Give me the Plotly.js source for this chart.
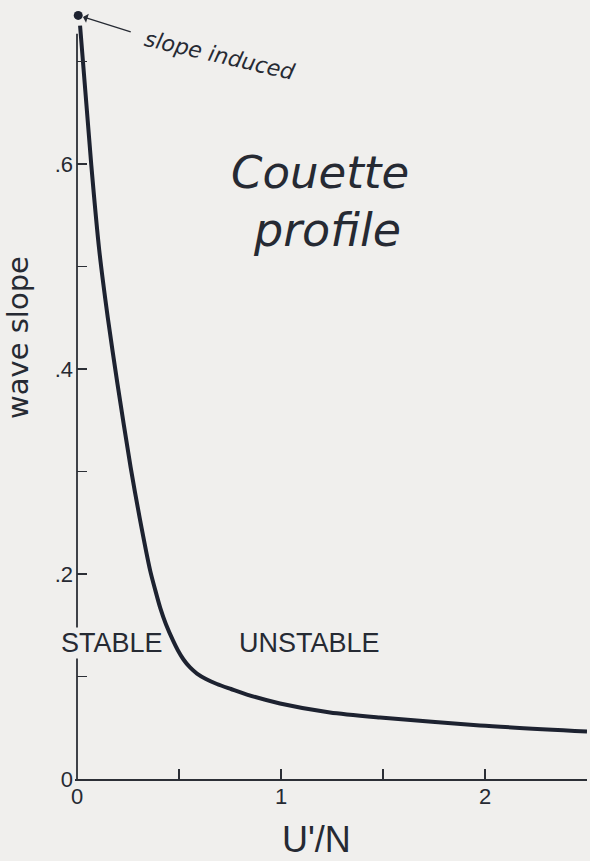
<!DOCTYPE html>
<html>
<head>
<meta charset="utf-8">
<script src="https://cdn.plot.ly/plotly-3.0.1.min.js"></script>
<style>
  html, body { margin: 0; padding: 0; background: #f0efed; }
  #chart { width: 590px; height: 861px; }
</style>
</head>
<body>
<div id="chart"></div>
<script>
// U'/N values along the Couette-profile stability boundary
const uOverN = [0.015, 0.070, 0.109, 0.151, 0.198, 0.263, 0.307, 0.359, 0.384, 0.408,
                0.436, 0.471, 0.495, 0.522, 0.554, 0.588, 0.632, 0.686, 0.755, 0.833,
                0.995, 1.240, 1.485, 1.975, 2.500];
// wave slope on the boundary
const waveSlope = [0.735, 0.599, 0.516, 0.450, 0.386, 0.304, 0.255, 0.203, 0.184, 0.167,
                   0.151, 0.135, 0.1254, 0.1166, 0.1088, 0.1029, 0.0976, 0.0927, 0.0878, 0.0824,
                   0.0737, 0.0649, 0.0600, 0.0522, 0.0463];
// slope-induced point
const inducedX = [0.006];
const inducedY = [0.745];

const xTickVals = [0, 0.5, 1, 1.5, 2, 2.5];
const xTickText = ["0", "", "1", "", "2", ""];
const yTickVals = [0, 0.1, 0.2, 0.3, 0.4, 0.5, 0.6, 0.7];
const yTickText = ["0", "", ".2", "", ".4", "", ".6", ""];
const yRange = [0, 0.76];
const yAxisTop = 0.727;

const ink = "#1d2230";
const textInk = "#262a33";
const axisInk = "#2c2f36";
const bg = "#f0efed";

const traces = [
  {
    x: uOverN, y: waveSlope, type: "scatter", mode: "lines",
    line: { color: ink, width: 4, shape: "spline", smoothing: 0.7 },
    cliponaxis: false, hoverinfo: "skip"
  },
  {
    x: inducedX, y: inducedY, type: "scatter", mode: "markers",
    marker: { color: ink, size: 9 },
    cliponaxis: false, hoverinfo: "skip"
  }
];

const layout = {
  width: 590, height: 861,
  margin: { l: 77, r: 3, t: 0, b: 82 },
  paper_bgcolor: bg, plot_bgcolor: bg,
  showlegend: false,
  xaxis: {
    range: [0, 2.5], showgrid: false, zeroline: false,
    showline: true, linecolor: axisInk, linewidth: 1.8,
    ticks: "inside", ticklen: 10, tickwidth: 1.5, tickcolor: axisInk,
    tickmode: "array", tickvals: xTickVals, ticktext: xTickText,
    ticklabelstandoff: -3,
    tickfont: { family: "Liberation Sans, Arial, sans-serif", size: 22, color: textInk }
  },
  yaxis: {
    range: yRange, showgrid: false, zeroline: false,
    showline: true, linecolor: "rgba(0,0,0,0)", linewidth: 1.6,
    ticks: "inside", ticklen: 10, tickwidth: 1.5, tickcolor: axisInk,
    tickmode: "array", tickvals: yTickVals, ticktext: yTickText,
    ticklabelstandoff: -2,
    tickfont: { family: "Liberation Sans, Arial, sans-serif", size: 22, color: textInk }
  },
  shapes: [
    { type: "line", xref: "paper", yref: "paper", x0: 0, x1: 0,
      y0: 0, y1: yAxisTop / yRange[1],
      line: { color: axisInk, width: 1.8 } }
  ],
  annotations: [
    { xref: "paper", yref: "paper", x: 0.4765, y: 0.742, text: "<i>Couette</i>",
      showarrow: false, xanchor: "center", yanchor: "bottom",
      font: { family: "DejaVu Sans, sans-serif", size: 45, color: textInk } },
    { xref: "paper", yref: "paper", x: 0.491, y: 0.742, text: "<i>profile</i>",
      showarrow: false, xanchor: "center", yanchor: "top",
      font: { family: "DejaVu Sans, sans-serif", size: 46, color: textInk } },
    { xref: "paper", yref: "paper", x: 0.0696, y: 0.1746, text: "STABLE",
      showarrow: false, xanchor: "center", yanchor: "middle", bgcolor: bg, borderpad: 0,
      font: { family: "Liberation Sans, Arial, sans-serif", size: 27, color: textInk } },
    { xref: "paper", yref: "paper", x: 0.456, y: 0.1746, text: "UNSTABLE",
      showarrow: false, xanchor: "center", yanchor: "middle",
      font: { family: "Liberation Sans, Arial, sans-serif", size: 27, color: textInk } },
    { xref: "paper", yref: "paper", x: 0.2804, y: 0.929, text: "<i>slope induced</i>",
      showarrow: false, xanchor: "center", yanchor: "middle", textangle: 13,
      font: { family: "DejaVu Sans, sans-serif", size: 22, color: textInk } },
    { xref: "x", yref: "y", x: inducedX[0], y: inducedY[0], text: "",
      showarrow: true, arrowhead: 1, arrowsize: 1.2, arrowwidth: 1.3, arrowcolor: textInk,
      ax: 54, ay: 17, standoff: 5 },
    { xref: "paper", yref: "paper", x: -0.1157, y: 0.5674, text: "wave slope",
      showarrow: false, xanchor: "center", yanchor: "middle", textangle: -90,
      font: { family: "DejaVu Sans, sans-serif", size: 29, color: textInk } },
    { xref: "paper", yref: "paper", x: 0.47, y: -0.0783, text: "U'/N",
      showarrow: false, xanchor: "center", yanchor: "middle",
      font: { family: "Liberation Sans, Arial, sans-serif", size: 36, color: textInk } }
  ]
};

Plotly.newPlot("chart", traces, layout, { staticPlot: true, displayModeBar: false });
</script>
</body>
</html>
